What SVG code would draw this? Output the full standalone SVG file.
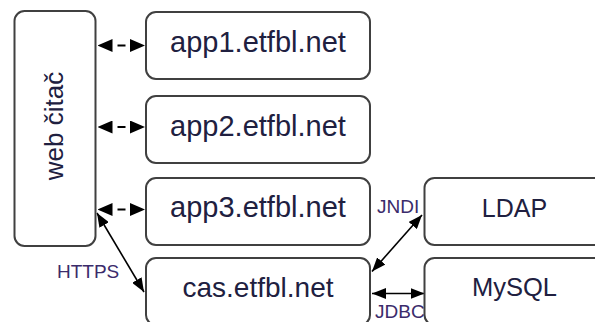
<svg xmlns="http://www.w3.org/2000/svg" width="595" height="322" viewBox="0 0 595 322">
  <style>
    .box { fill: #ffffff; stroke: #404040; stroke-width: 2; }
    .t { font-family: "Liberation Sans", Arial, sans-serif; fill: #202040; text-anchor: middle; }
    .lbl { font-family: "Liberation Sans", Arial, sans-serif; fill: #3b2b6b; font-size: 19px; }
    .dash { stroke: #000; stroke-width: 2; fill: none; stroke-dasharray: 0 20 8 100; marker-start: url(#headD); marker-end: url(#headD); }
    .solid { stroke: #000; stroke-width: 1.6; fill: none; marker-start: url(#headS); marker-end: url(#headS); }
  </style>
  <defs>
    <marker id="headD" markerUnits="userSpaceOnUse" markerWidth="15" markerHeight="13" refX="15" refY="6.5" orient="auto-start-reverse" viewBox="0 0 15 13">
      <path d="M0,0 L15,6.5 L0,13 Z" fill="#000"/>
    </marker>
    <marker id="headS" markerUnits="userSpaceOnUse" markerWidth="14" markerHeight="11" refX="14" refY="5.5" orient="auto-start-reverse" viewBox="0 0 14 11">
      <path d="M0,0 L14,5.5 L0,11 Z" fill="#000"/>
    </marker>
  </defs>
  <rect width="595" height="322" fill="#ffffff"/>
  <g id="connectors">
    <line class="dash" x1="97.5" y1="45.5" x2="145" y2="45.5"/>
    <line class="dash" x1="97.5" y1="127" x2="145" y2="127"/>
    <line class="dash" x1="97.5" y1="209.5" x2="145" y2="209.5"/>
    <line class="solid" x1="97" y1="213" x2="144" y2="292"/>
    <line class="solid" x1="372" y1="271.5" x2="422" y2="215"/>
    <line class="solid" x1="372" y1="293.5" x2="424.5" y2="293.5"/>
    <text class="lbl" x="57" y="278">HTTPS</text>
    <text class="lbl" x="377" y="213">JNDI</text>
    <text class="lbl" x="375" y="317.5">JDBC</text>
  </g>
  <g id="web">
    <rect class="box" x="14.5" y="11" width="81" height="235" rx="10"/>
    <text class="t" font-size="26" transform="translate(63,126) rotate(-90)">web čitač</text>
  </g>
  <g id="app1">
    <rect class="box" x="146" y="12" width="224" height="67" rx="10"/>
    <text class="t" font-size="29" x="258" y="52">app1.etfbl.net</text>
  </g>
  <g id="app2">
    <rect class="box" x="146" y="96" width="224" height="67" rx="10"/>
    <text class="t" font-size="29" x="258" y="135.5">app2.etfbl.net</text>
  </g>
  <g id="app3">
    <rect class="box" x="146" y="178" width="224" height="67" rx="10"/>
    <text class="t" font-size="29" x="258" y="217">app3.etfbl.net</text>
  </g>
  <g id="cas">
    <rect class="box" x="146" y="258" width="224" height="67" rx="10"/>
    <text class="t" font-size="28" x="258" y="297">cas.etfbl.net</text>
  </g>
  <g id="ldap">
    <rect class="box" x="424.5" y="178" width="186" height="67" rx="10"/>
    <text class="t" font-size="25" x="514.5" y="216.5">LDAP</text>
  </g>
  <g id="mysql">
    <rect class="box" x="424.5" y="258" width="186" height="67" rx="10"/>
    <text class="t" font-size="25.5" x="514.5" y="296">MySQL</text>
  </g>
</svg>
